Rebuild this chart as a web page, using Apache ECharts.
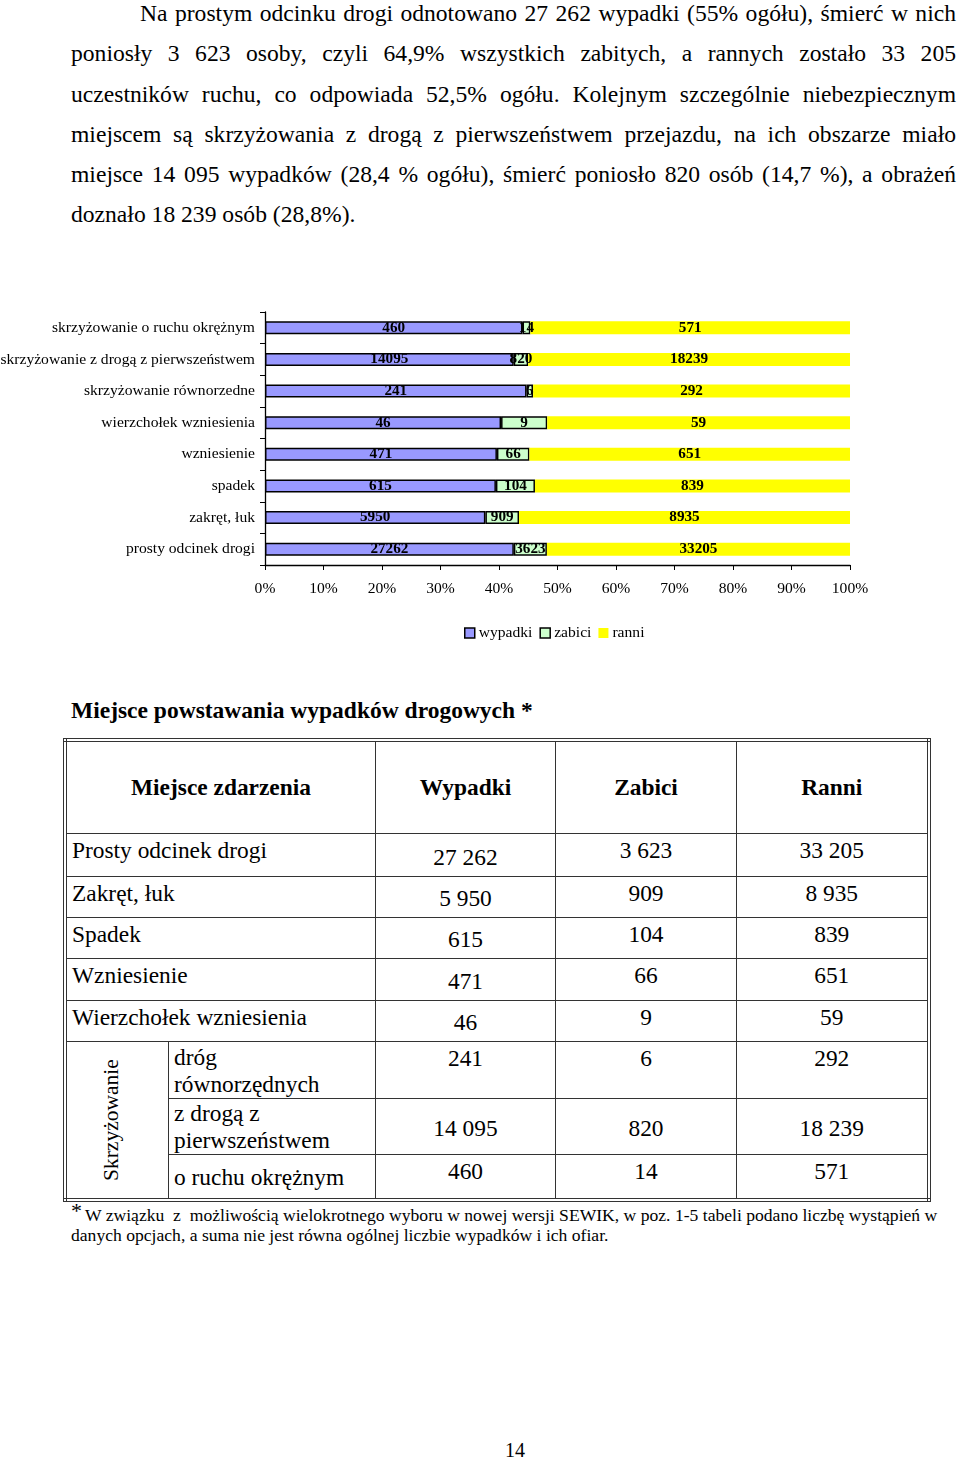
<!DOCTYPE html>
<html><head><meta charset="utf-8">
<script src="https://cdn.jsdelivr.net/npm/echarts@6/dist/echarts.min.js"></script>
<style>
body{margin:0;width:960px;height:1459px;position:relative;background:#fff;font-family:"Liberation Serif","Times New Roman",serif;color:#000;overflow:hidden}
#para{position:absolute;left:71px;top:-7px;width:885px;font-size:23.6px;line-height:40.3px;text-align:justify;text-indent:69px}
#chart{position:absolute;left:0;top:300px;width:960px;height:360px}
#title{position:absolute;left:71px;top:697px;font-size:23.5px;font-weight:bold}
#tbl{position:absolute;left:63px;top:738px;border-collapse:collapse;border:4px double #333;font-size:23.4px;table-layout:fixed}
#tbl td{border:1px solid #333;padding:3px 5px 0 5px;vertical-align:top;line-height:27px}
#tbl td.n{text-align:center}
#tbl td.b{vertical-align:bottom;padding-bottom:5px;padding-top:0}
#tbl th{border:1px solid #333;font-weight:bold;font-size:23.4px;height:91px;padding:0}
#note{position:absolute;left:71px;top:1205px;width:885px;font-size:17.6px;line-height:20px}
#ast{position:absolute;left:71px;top:1201px;font-size:22px;line-height:20px}
#pg{position:absolute;left:505px;top:1439px;font-size:20px}
</style></head><body>
<div id="para">Na prostym odcinku drogi odnotowano 27 262 wypadki (55% ogółu), śmierć w nich poniosły 3 623 osoby, czyli 64,9% wszystkich zabitych, a rannych zostało 33 205 uczestników ruchu, co odpowiada 52,5% ogółu. Kolejnym szczególnie niebezpiecznym miejscem są skrzyżowania z drogą z pierwszeństwem przejazdu, na ich obszarze miało miejsce 14 095 wypadków (28,4 % ogółu), śmierć poniosło 820 osób (14,7 %), a obrażeń doznało 18 239 osób (28,8%).</div>
<div id="chart"></div>
<div id="title">Miejsce powstawania wypadków drogowych *</div>
<table id="tbl">
<colgroup><col style="width:101px"><col style="width:207px"><col style="width:180px"><col style="width:181px"><col style="width:192px"></colgroup>
<tr><th colspan="2">Miejsce zdarzenia</th><th>Wypadki</th><th>Zabici</th><th>Ranni</th></tr>
<tr style="height:43px"><td colspan="2">Prosty odcinek drogi</td><td class="n b">27 262</td><td class="n">3 623</td><td class="n">33 205</td></tr>
<tr style="height:41px"><td colspan="2">Zakręt, łuk</td><td class="n b">5 950</td><td class="n">909</td><td class="n">8 935</td></tr>
<tr style="height:41px"><td colspan="2">Spadek</td><td class="n b">615</td><td class="n">104</td><td class="n">839</td></tr>
<tr style="height:42px"><td colspan="2">Wzniesienie</td><td class="n b">471</td><td class="n">66</td><td class="n">651</td></tr>
<tr style="height:41px"><td colspan="2">Wierzchołek wzniesienia</td><td class="n b">46</td><td class="n">9</td><td class="n">59</td></tr>
<tr style="height:55px"><td rowspan="3" style="vertical-align:middle;text-align:center;padding:0"><div style="transform:translate(-6px,11px) rotate(-90deg);white-space:nowrap;width:101px;font-size:21.5px">Skrzyżowanie</div></td><td style="padding-top:2px">dróg<br>równorzędnych</td><td class="n">241</td><td class="n">6</td><td class="n">292</td></tr>
<tr style="height:54px"><td style="padding-top:1px">z drogą z<br>pierwszeństwem</td><td class="n" style="vertical-align:middle">14 095</td><td class="n" style="vertical-align:middle">820</td><td class="n" style="vertical-align:middle">18 239</td></tr>
<tr style="height:45px"><td style="vertical-align:middle">o ruchu okrężnym</td><td class="n">460</td><td class="n">14</td><td class="n">571</td></tr>
</table>
<div id="ast">*</div>
<div id="note"><span style="display:inline-block;width:14px"></span>W związku&nbsp; z&nbsp; możliwością wielokrotnego wyboru w nowej wersji SEWIK, w poz. 1-5 tabeli podano liczbę wystąpień w danych opcjach, a suma nie jest równa ogólnej liczbie wypadków i ich ofiar.</div>
<div id="pg">14</div>
<script>
const categories = ['prosty odcinek drogi','zakręt, łuk','spadek','wzniesienie','wierzchołek wzniesienia','skrzyżowanie równorzedne','skrzyżowanie z drogą z pierwszeństwem','skrzyżowanie o ruchu okrężnym'];
const wypadki = [27262, 5950, 615, 471, 46, 241, 14095, 460];
const zabici  = [3623, 909, 104, 66, 9, 6, 820, 14];
const ranni   = [33205, 8935, 839, 651, 59, 292, 18239, 571];
const xTicks = [0,10,20,30,40,50,60,70,80,90,100];

const totals = categories.map((c,i)=>wypadki[i]+zabici[i]+ranni[i]);
const pct = arr => arr.map((v,i)=>({value:v/totals[i]*100, raw:v}));
const FONT = 'Liberation Serif';
const lbl = {show:true, position:'inside', color:'#000', fontFamily:FONT, fontWeight:'bold', fontSize:15.2, formatter:p=>p.data.raw};
const chart = echarts.init(document.getElementById('chart'));
chart.setOption({
  animation:false,
  textStyle:{fontFamily:FONT},
  grid:{left:265, right:110, top:12, height:253, containLabel:false, outerBoundsMode:'none'},
  legend:{left:459, top:320, itemWidth:10, itemHeight:10, itemGap:7, icon:'rect',
    textStyle:{fontFamily:FONT, fontSize:15.6, color:'#000', padding:[0,0,0,-1]},
    data:[{name:'wypadki', itemStyle:{borderColor:'#000', borderWidth:1.5}},
          {name:'zabici', itemStyle:{borderColor:'#000', borderWidth:1.5}},
          {name:'ranni'}]},
  xAxis:{type:'value', min:0, max:100, interval:10,
    axisLine:{show:true, lineStyle:{color:'#000', width:1.3}},
    axisTick:{show:true, length:5, lineStyle:{color:'#000'}},
    splitLine:{show:false},
    axisLabel:{fontFamily:FONT, fontSize:15.6, color:'#000', margin:16, formatter:v=>xTicks.includes(v)? v+'%':''}},
  yAxis:{type:'category', data:categories,
    axisLine:{show:true, lineStyle:{color:'#000', width:1.3}},
    axisTick:{show:true, length:5, lineStyle:{color:'#000'}},
    axisLabel:{fontFamily:FONT, fontSize:15.6, color:'#000', margin:10}},
  series:[
    {name:'wypadki', type:'bar', stack:'s', barWidth:13, data:pct(wypadki), itemStyle:{color:'#9999ff', borderColor:'#000', borderWidth:1.5}, label:lbl},
    {name:'zabici', type:'bar', stack:'s', barWidth:13, data:pct(zabici), itemStyle:{color:'#ccffcc', borderColor:'#000', borderWidth:1.5}, label:lbl},
    {name:'ranni', type:'bar', stack:'s', barWidth:13, data:pct(ranni), itemStyle:{color:'#ffff00', borderWidth:0}, label:lbl}
  ]
});
</script>
</body></html>
